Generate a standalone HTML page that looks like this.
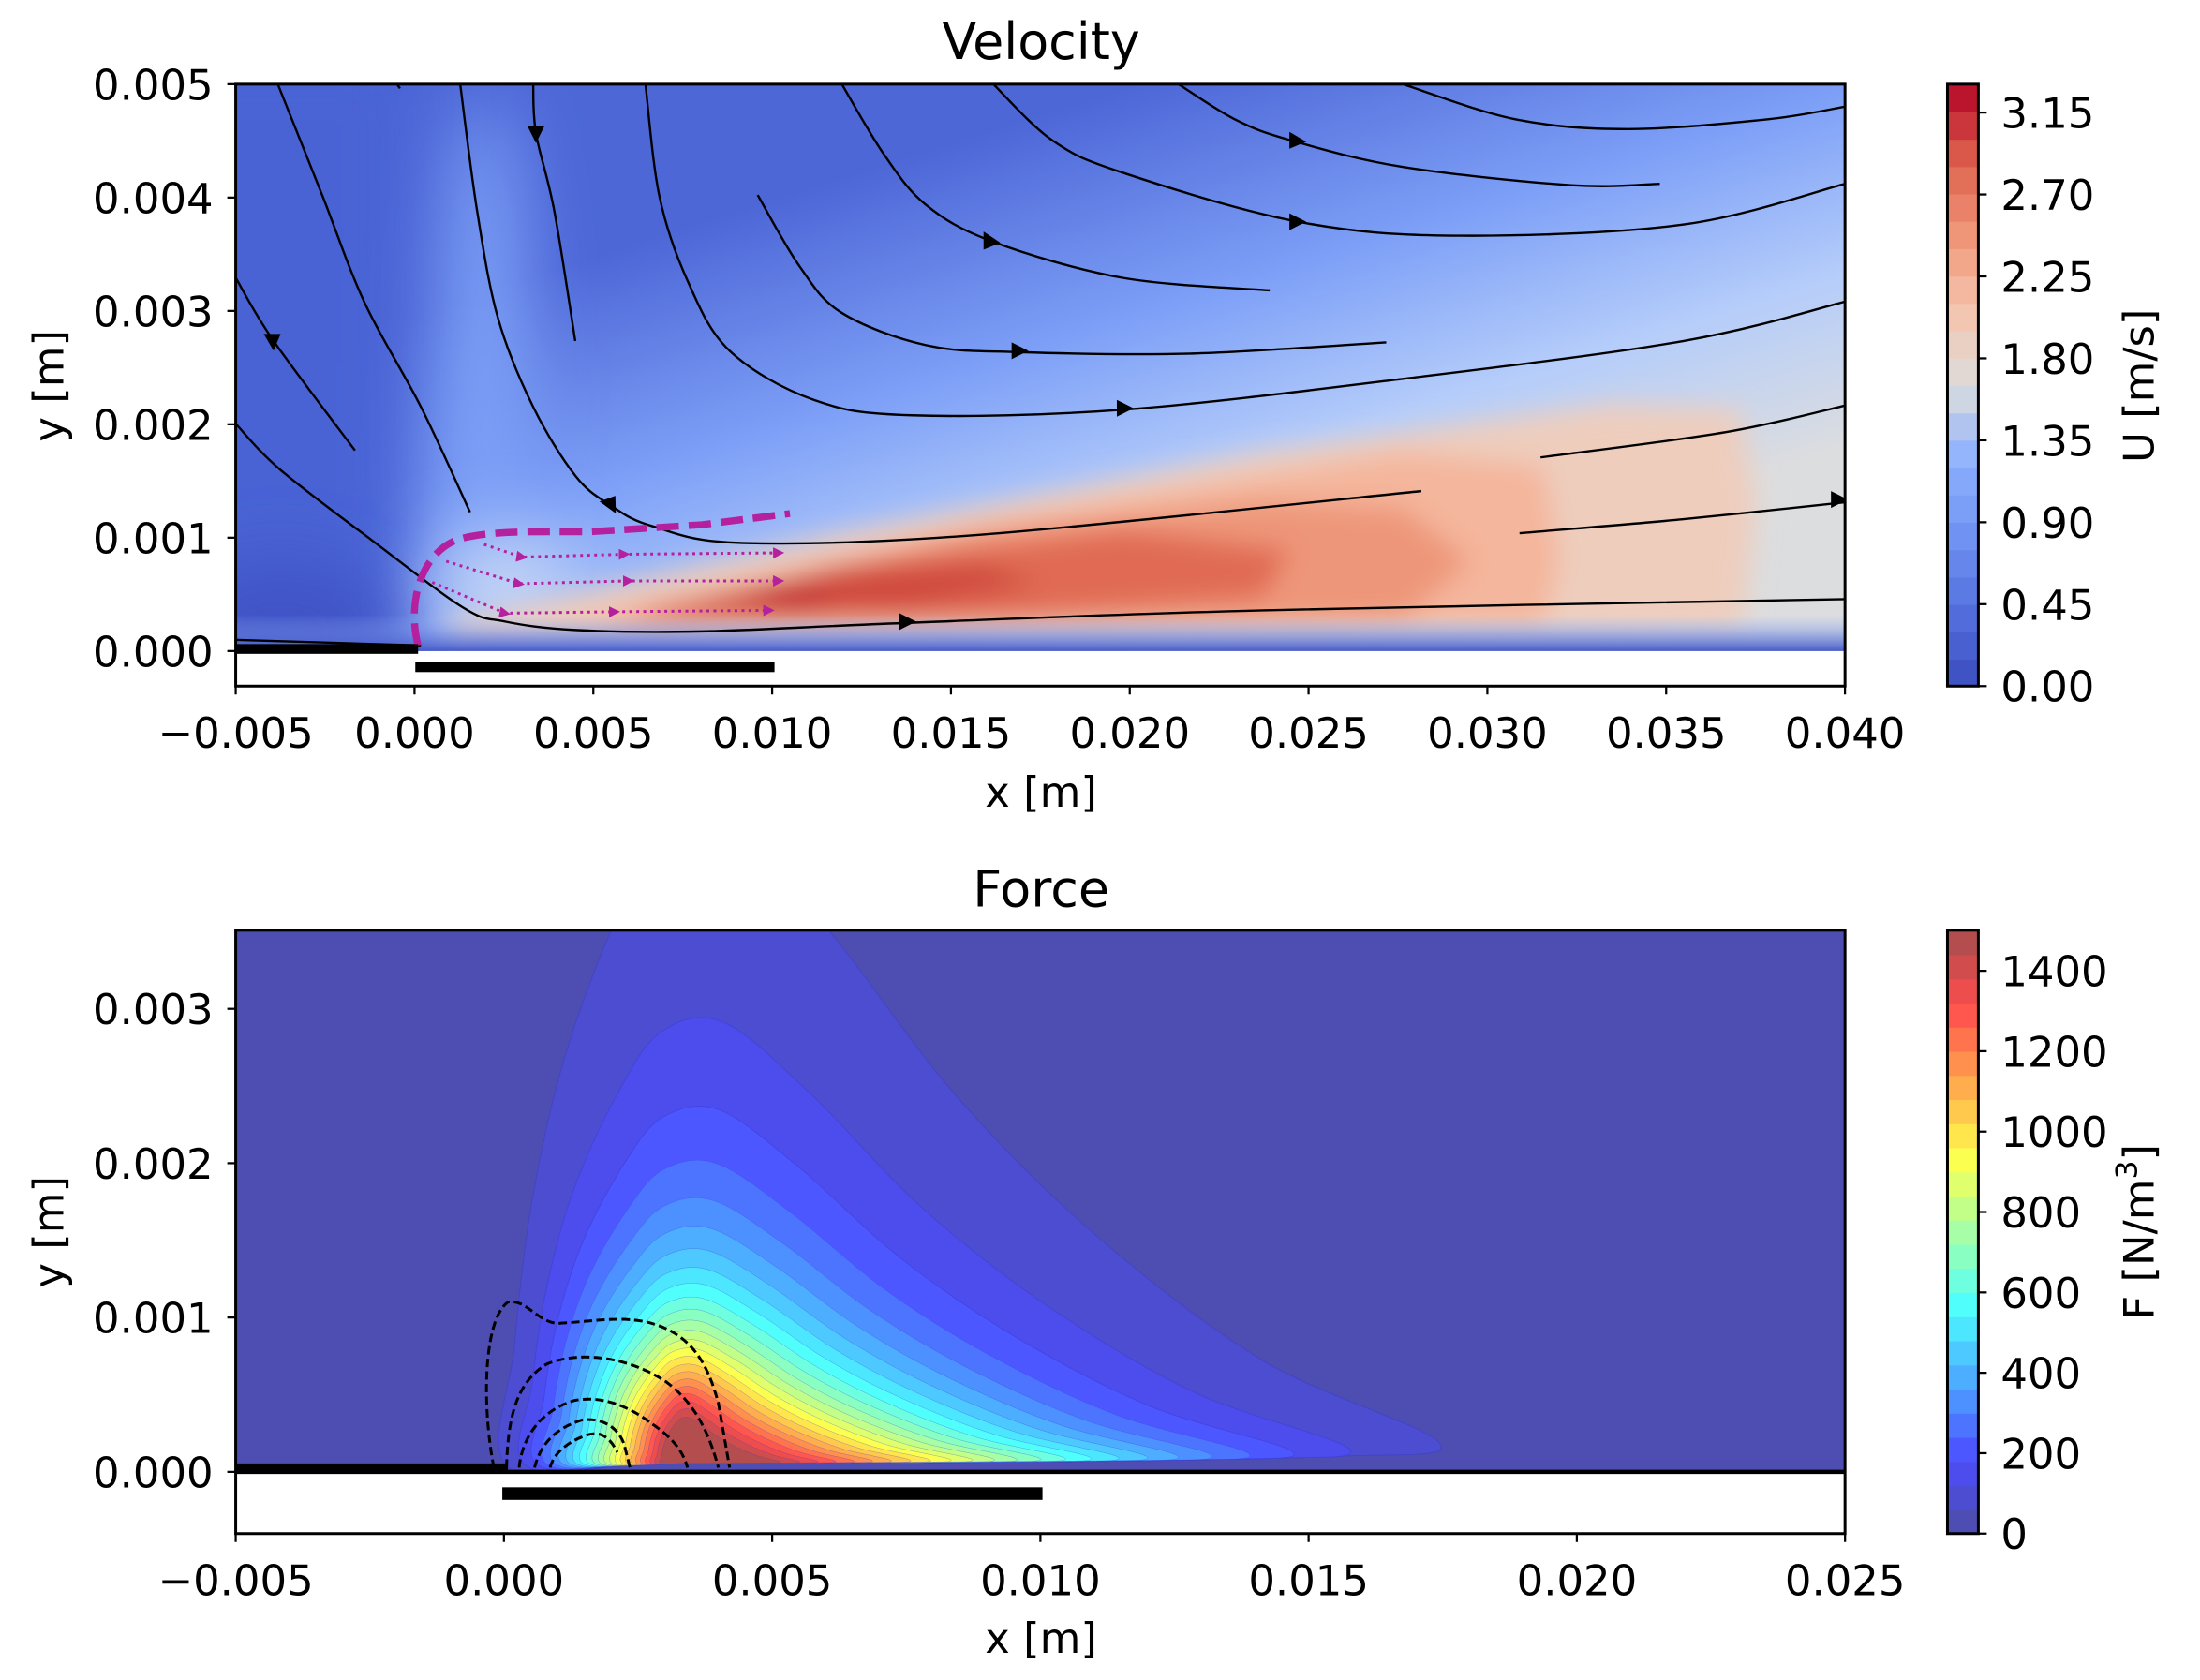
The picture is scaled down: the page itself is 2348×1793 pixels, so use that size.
<!DOCTYPE html>
<html><head><meta charset="utf-8"><style>
html,body{margin:0;padding:0;background:#fff}
svg text{font-family:"DejaVu Sans","Liberation Sans",sans-serif;fill:#000}
</style></head><body>
<svg id="s" xmlns="http://www.w3.org/2000/svg" width="2348" height="1788" viewBox="0 0 1568 1194" preserveAspectRatio="none">
<defs>
<clipPath id="c1"><rect x="168" y="60" width="1147" height="404"/></clipPath>
<clipPath id="c2"><rect x="168" y="663" width="1147" height="386"/></clipPath>
<linearGradient id="g1" gradientUnits="userSpaceOnUse" x1="100" y1="285" x2="220" y2="665">
<stop offset="0" stop-color="#4d67d7"/><stop offset="0.4" stop-color="#7ea0f7"/><stop offset="0.7" stop-color="#b5cdfa"/><stop offset="1" stop-color="#dcdddf"/></linearGradient>
<linearGradient id="wall" x1="0" y1="0" x2="0" y2="1"><stop offset="0" stop-color="#9ab9fc" stop-opacity="0"/><stop offset="1" stop-color="#3f53c6"/></linearGradient>
<filter id="b30" filterUnits="userSpaceOnUse" x="0" y="0" width="1568" height="1194"><feGaussianBlur stdDeviation="25"/></filter>
<filter id="b6" filterUnits="userSpaceOnUse" x="0" y="0" width="1568" height="1194"><feGaussianBlur stdDeviation="9"/></filter>
<marker id="am" viewBox="0 0 10 10" refX="5" refY="5" markerWidth="4" markerHeight="4" orient="auto"><path d="M0,0L10,5L0,10z" fill="#b5209f"/></marker>
</defs>

<text x="742" y="42" font-size="36" text-anchor="middle">Velocity</text>
<g clip-path="url(#c1)">
<rect x="168" y="60" width="1147" height="404" fill="url(#g1)"/>
<rect x="110" y="30" width="190" height="460" fill="#4a63d5" filter="url(#b30)"/>
<ellipse cx="345" cy="260" rx="30" ry="190" fill="#7fa2f8" filter="url(#b30)"/>
<ellipse cx="200" cy="450" rx="80" ry="50" fill="#3f52c6" filter="url(#b30)"/>
<ellipse cx="360" cy="420" rx="50" ry="40" fill="#c5d5f5" filter="url(#b30)"/>
<g filter="url(#b6)">
<polygon points="320,445 600,380 900,322 1150,288 1240,292 1252,360 1242,448 320,458" fill="#eecdbd"/>
<polygon points="390,447 700,372 1000,322 1100,332 1112,400 1100,445" fill="#f4b69c"/>
<polygon points="425,446 700,378 900,356 1000,362 1048,400 1000,442" fill="#ee9679"/>
<polygon points="440,442 600,402 800,377 920,392 900,426 700,441" fill="#e06b53"/>
<polygon points="455,436 600,407 700,402 740,416 650,433" fill="#cf4a3e"/>
<ellipse cx="565" cy="428" rx="28" ry="6" fill="#bc2033"/>
</g>
<rect x="168" y="438" width="1147" height="27" fill="url(#wall)"/>
<g id="sl" fill="none" stroke="#000" stroke-width="1.6"></g>
<g fill="#000">
<path d="M188,238 l12,0 l-5,12z"/><path d="M376,90 l12,0 l-6,12z"/><path d="M429,355 l12,0 l-4,12z" transform="rotate(-20 435 361)"/>
<path d="M641,437 l12,6 l-12,6z"/><path d="M796,285 l12,6 l-12,6z"/><path d="M721,244 l12,6 l-12,6z"/>
<path d="M701,165 l12,8 l-12,5z"/><path d="M919,94 l12,7 l-12,5z"/><path d="M919,152 l12,6 l-12,6z"/><path d="M1305,350 l12,6 l-12,6z"/>
</g>
<path d="M298,460 C290,430 300,395 325,385 C345,378 380,379 420,379 L500,374 L563,366" fill="none" stroke="#b5209f" stroke-width="5" stroke-dasharray="16,7"/>
<g fill="none" stroke="#b5209f" stroke-width="2" stroke-dasharray="2,3">
<polyline points="345,388 372,397 445,395 555,394" marker-mid="url(#am)" marker-end="url(#am)"/>
<polyline points="318,400 370,416 448,414 555,414" marker-mid="url(#am)" marker-end="url(#am)"/>
<polyline points="308,415 360,437 438,436 548,435" marker-mid="url(#am)" marker-end="url(#am)"/>
</g>
</g>
<rect x="168" y="459" width="130" height="7" fill="#000"/>
<rect x="296" y="472" width="256" height="7" fill="#000"/>
<rect x="168" y="60" width="1147" height="429" fill="none" stroke="#000" stroke-width="2"/>
<g id="tx1"></g>
<g id="cb1"></g>

<text x="742" y="646" font-size="36" text-anchor="middle">Force</text>
<g clip-path="url(#c2)">
<rect x="168" y="663" width="1147" height="386" fill="#4d4db2"/>
<g id="fl"></g>
<g fill="none" stroke="#000" stroke-width="2" stroke-dasharray="6,3">
<path d="M352,1046 C343,1000 345,940 362,928 C375,925 385,945 400,943 C420,942 440,938 460,942 C495,950 505,975 512,1000 L520,1046"/>
<path d="M361,1046 C362,1010 368,985 390,972 C415,962 450,968 475,985 C495,1000 505,1020 512,1046"/>
<path d="M370,1046 C372,1025 385,1005 410,998 C432,994 452,1005 465,1015 C480,1025 487,1035 490,1046"/>
<path d="M381,1046 C385,1030 395,1018 415,1012 C432,1010 442,1020 445,1030 L449,1046"/>
<path d="M392,1046 C395,1035 405,1028 415,1024 C428,1018 435,1025 440,1035"/>
</g>
</g>
<rect x="168" y="1043" width="194" height="7" fill="#000"/>
<line x1="168" y1="1049" x2="1315" y2="1049" stroke="#000" stroke-width="3"/>
<rect x="358" y="1060" width="385" height="9" fill="#000"/>
<rect x="168" y="663" width="1147" height="430" fill="none" stroke="#000" stroke-width="2"/>
<g id="tx2"></g>
<g id="cb2"></g>
</svg>
<script>
var NS="http://www.w3.org/2000/svg";
function el(p,t,a,txt){var e=document.createElementNS(NS,t);for(var k in a)e.setAttribute(k,a[k]);if(txt!=null)e.textContent=txt;document.getElementById(p).appendChild(e);return e;}
function fmt(v,d){var s=Math.abs(v).toFixed(d);return (v<-1e-12?"\u2212":"")+s;}
function smooth(pts,closed){var n=pts.length,d="M"+pts[0][0].toFixed(1)+","+pts[0][1].toFixed(1);var m=closed?n:n-1;for(var i=0;i<m;i++){var p0=closed?pts[(i-1+n)%n]:pts[Math.max(i-1,0)],p1=pts[i],p2=pts[(i+1)%n],p3=closed?pts[(i+2)%n]:pts[Math.min(i+2,n-1)];var c1=[p1[0]+(p2[0]-p0[0])/6,p1[1]+(p2[1]-p0[1])/6],c2=[p2[0]-(p3[0]-p1[0])/6,p2[1]-(p3[1]-p1[1])/6];d+="C"+c1[0].toFixed(1)+","+c1[1].toFixed(1)+" "+c2[0].toFixed(1)+","+c2[1].toFixed(1)+" "+p2[0].toFixed(1)+","+p2[1].toFixed(1);}return d+(closed?"Z":"");}
var SL=[
[[168,198],[195,243],[253,321]],
[[168,302],[200,335],[265,385],[330,433],[360,443],[410,449],[500,450],[645,444],[900,435],[1315,427]],
[[198,60],[230,140],[260,216],[300,290],[335,365]],
[[283,60],[285,63]],
[[328,60],[340,150],[355,227],[380,290],[410,339],[435,360],[465,375],[530,387],[700,381],[1013,350]],
[[380,60],[382,95],[395,150],[410,243]],
[[460,60],[470,140],[490,200],[520,250],[580,285],[650,296],[800,292],[1000,270],[1200,243],[1315,215]],
[[540,139],[570,190],[600,223],[660,246],[727,251],[850,252],[988,244]],
[[600,60],[630,110],[660,146],[707,172],[800,198],[905,207]],
[[708,60],[750,100],[800,123],[925,158],[1040,168],[1200,160],[1315,131]],
[[840,60],[880,85],[920,100],[1000,119],[1120,132],[1183,131]],
[[1000,60],[1080,85],[1160,92],[1260,85],[1315,76]],
[[1098,326],[1230,308],[1315,289]],
[[1083,380],[1200,370],[1315,358]],
[[168,456],[300,460]]];
SL.forEach(function(p){el("sl","path",{d:smooth(p,false)});});
for(var i=0;i<=9;i++){var v=-0.005+0.005*i,x=168+127.44*i;el("tx1","line",{x1:x,y1:489,x2:x,y2:495,stroke:"#000","stroke-width":1.5});el("tx1","text",{x:x,y:533,"font-size":30,"text-anchor":"middle"},fmt(v,3));}
for(var i=0;i<=5;i++){var y=464-80.8*i;el("tx1","line",{x1:162,y1:y,x2:168,y2:y,stroke:"#000","stroke-width":1.5});el("tx1","text",{x:152,y:y+11,"font-size":30,"text-anchor":"end"},(0.001*i).toFixed(3));}
el("tx1","text",{x:742,y:575,"font-size":30,"text-anchor":"middle"},"x [m]");
el("tx1","text",{x:0,y:0,"font-size":30,"text-anchor":"middle",transform:"translate(45,275) rotate(-90)"},"y [m]");
for(var i=0;i<=6;i++){var v=-0.005+0.005*i,x=168+191.17*i;el("tx2","line",{x1:x,y1:1093,x2:x,y2:1099,stroke:"#000","stroke-width":1.5});el("tx2","text",{x:x,y:1137,"font-size":30,"text-anchor":"middle"},fmt(v,3));}
for(var i=0;i<=3;i++){var y=1049-110*i;el("tx2","line",{x1:162,y1:y,x2:168,y2:y,stroke:"#000","stroke-width":1.5});el("tx2","text",{x:152,y:y+11,"font-size":30,"text-anchor":"end"},(0.001*i).toFixed(3));}
el("tx2","text",{x:742,y:1178,"font-size":30,"text-anchor":"middle"},"x [m]");
el("tx2","text",{x:0,y:0,"font-size":30,"text-anchor":"middle",transform:"translate(45,878) rotate(-90)"},"y [m]");
var cw=[[0,[59,76,192]],[0.125,[84,112,222]],[0.25,[112,147,243]],[0.375,[141,176,254]],[0.5,[221,221,221]],[0.625,[245,196,173]],[0.75,[240,150,120]],[0.875,[221,96,76]],[1,[180,4,38]]];
function cwc(t){for(var i=1;i<cw.length;i++){if(t<=cw[i][0]){var a=cw[i-1],b=cw[i],f=(t-a[0])/(b[0]-a[0]);return "rgb("+[0,1,2].map(function(k){return Math.round(a[1][k]+(b[1][k]-a[1][k])*f)}).join(",")+")";}}return "rgb(180,4,38)";}
var n1=22;for(var i=0;i<n1;i++){var y0=489-429*(i+1)/n1;el("cb1","rect",{x:1388,y:y0,width:22,height:429/n1+0.6,fill:cwc((i+0.5)/n1)});}
el("cb1","rect",{x:1388,y:60,width:22,height:429,fill:"none",stroke:"#000","stroke-width":2});
for(var i=0;i<=7;i++){var y=489-i*58.4;el("cb1","line",{x1:1410,y1:y,x2:1416,y2:y,stroke:"#000","stroke-width":1.5});el("cb1","text",{x:1426,y:y+11,"font-size":30},(0.45*i).toFixed(2));}
el("cb1","text",{x:0,y:0,"font-size":30,"text-anchor":"middle",transform:"translate(1535,275) rotate(-90)"},"U [m/s]");
function cl(x){return Math.max(0,Math.min(1,x));}
function jet(t,a){var r=cl(1.5-Math.abs(4*t-3)),g=cl(1.5-Math.abs(4*t-2)),b=cl(1.5-Math.abs(4*t-1));return "rgb("+[r,g,b].map(function(c){return Math.round(255*(c*a+1-a))}).join(",")+")";}
for(var i=0;i<25;i++){var y0=1093-430*(i+1)/25;el("cb2","rect",{x:1388,y:y0,width:22,height:430/25+0.6,fill:jet((i+0.5)/25,0.7)});}
el("cb2","rect",{x:1388,y:663,width:22,height:430,fill:"none",stroke:"#000","stroke-width":2});
for(var i=0;i<=7;i++){var y=1093-57.3*i;el("cb2","line",{x1:1410,y1:y,x2:1416,y2:y,stroke:"#000","stroke-width":1.5});el("cb2","text",{x:1426,y:y+11,"font-size":30},String(200*i));}
var cbl=el("cb2","text",{x:0,y:0,"font-size":30,"text-anchor":"middle",transform:"translate(1535,878) rotate(-90)"},"F [N/m");
var ts=document.createElementNS(NS,"tspan");ts.setAttribute("dy","-12");ts.setAttribute("font-size","21");ts.textContent="3";cbl.appendChild(ts);
var ts2=document.createElementNS(NS,"tspan");ts2.setAttribute("dy","12");ts2.textContent="]";cbl.appendChild(ts2);
var P=[[362,1046],[366,960],[378,860],[400,760],[435,663],[470,600],[520,590],[590,663],[680,780],[780,880],[900,970],[1025,1028],[950,1038],[700,1042],[470,1043]];
for(var v=60;v<=1440;v+=60){var s=Math.sqrt(60/v)*Math.pow(Math.max(0.02,1-v/1600),0.46)/Math.pow(1-60/1600,0.46);var sx=Math.pow(s,0.3+0.5*v/1500);var ax=470+(v/1440)*15;
var pts=P.map(function(p){return [ax+(p[0]-470)*sx,1043+(p[1]-1043)*s];});
el("fl","path",{d:smooth(pts,true),fill:jet((v+30)/1500,0.7),stroke:"#3a3ad0","stroke-width":v<200?0.6:0.3,"stroke-opacity":0.5});}
</script>
</body></html>
